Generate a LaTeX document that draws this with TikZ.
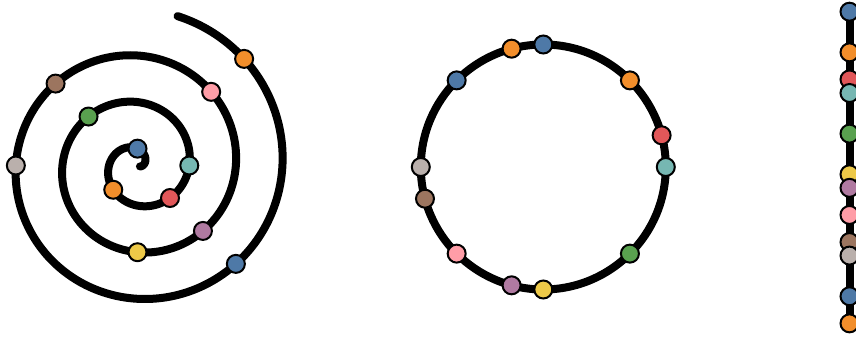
\documentclass[tikz,border=0pt]{standalone}
\usetikzlibrary{calc}
\definecolor{tblue}{HTML}{4E79A7}
\definecolor{torange}{HTML}{F28E2B}
\definecolor{tred}{HTML}{E15759}
\definecolor{tteal}{HTML}{76B7B2}
\definecolor{tgreen}{HTML}{59A14F}
\definecolor{tyellow}{HTML}{EDC948}
\definecolor{tpurple}{HTML}{B07AA1}
\definecolor{tpink}{HTML}{FF9DA7}
\definecolor{tbrown}{HTML}{9C755F}
\definecolor{tgray}{HTML}{BAB0AC}
\begin{document}
\begin{tikzpicture}[x=1pt,y=-1pt,
  track/.style={line width=8pt,line cap=round,black},
  dot/.style={circle,draw=black,line width=2pt,minimum size=18pt,inner sep=0pt,fill=#1}]
\useasboundingbox (0,0) rectangle (856,337);
% spiral
\draw[track] plot[domain=-20:1155,samples=500,variable=\t,smooth]
  ({137.5+(5.2+0.1294*\t)*cos(\t)},{165.5-(5.2+0.1294*\t)*sin(\t)});
\foreach \a/\c/\n in {90/tblue/s1,225/torange/s2,315/tred/s3,360/tteal/s4,495/tgreen/s5,630/tyellow/s6,675/tpurple/s7,765/tpink/s8,855/tbrown/s9,900/tgray/s10,1035/tblue/s11,1125/torange/s12}
  \node[dot=\c] (\n) at ({137.5+(5.2+0.1294*\a)*cos(\a)},{165.5-(5.2+0.1294*\a)*sin(\a)}) {};
% circle
\coordinate (cc) at (543.3,167);
\draw[track] (cc) circle[radius=122.5];
\foreach \a/\c/\n in {0/tteal/c1,15/tred/c2,45/torange/c3,90/tblue/c4,105/torange/c5,135/tblue/c6,180/tgray/c7,195/tbrown/c8,225/tpink/c9,255/tpurple/c10,270/tyellow/c11,315/tgreen/c12}
  \node[dot=\c] (\n) at ($(cc)+({122.5*cos(\a)},{-122.5*sin(\a)})$) {};
% unrolled line
\coordinate (ltop) at (849.5,11.7);
\coordinate (lbot) at (849.5,323.3);
\draw[track,line cap=butt] (ltop) -- (lbot);
\foreach \a/\c/\n in {90/tblue/l1,225/torange/l2,315/tred/l3,360/tteal/l4,495/tgreen/l5,630/tyellow/l6,675/tpurple/l7,765/tpink/l8,855/tbrown/l9,900/tgray/l10,1035/tblue/l11,1125/torange/l12}
  \node[dot=\c] (\n) at (849.5,{11.7+0.3011*(\a-90)}) {};
\end{tikzpicture}
\end{document}
